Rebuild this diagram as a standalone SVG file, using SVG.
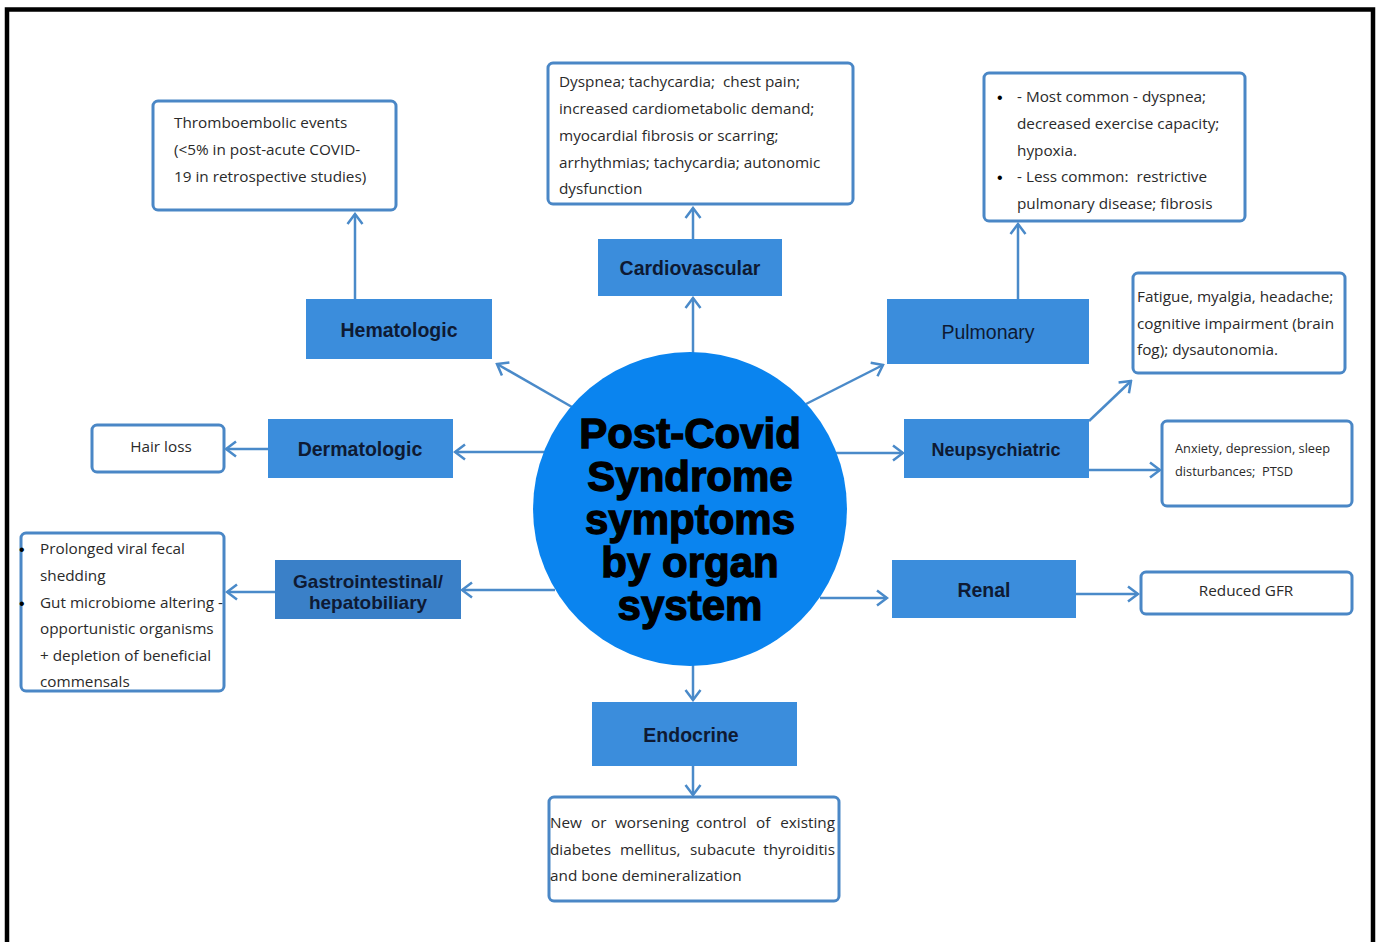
<svg xmlns="http://www.w3.org/2000/svg" width="1379" height="942" viewBox="0 0 1379 942">
<style>
.node{fill:#3b8ddc}
.lbl{font-family:"Liberation Sans",Arial,sans-serif;font-weight:bold;font-size:19.5px;fill:#0e1a33;text-anchor:middle}
.box{fill:#fff;stroke:#4a87c6;stroke-width:3}
.txt{font-family:"Open Sans","Liberation Sans",sans-serif;font-size:15.3px;fill:#2a2a2a;white-space:pre}
.sm{font-size:12.8px}
.bul{font-family:"Liberation Sans",Arial,sans-serif;font-size:16px;fill:#000}
.con line{stroke:#4a8ac9;stroke-width:2.5;fill:none}
.title{font-family:"Liberation Sans",Arial,sans-serif;font-weight:bold;font-size:42px;fill:#000;stroke:#000;stroke-width:1.3;text-anchor:middle}
</style>
<defs>
<marker id="ah" viewBox="-13 -9 15 18" markerWidth="15" markerHeight="18" refX="0" refY="0" orient="auto" markerUnits="userSpaceOnUse">
<path d="M-10,-7.5 L0,0 L-10,7.5" fill="none" stroke="#4a8ac9" stroke-width="2.5"/>
</marker>
</defs>
<rect width="1379" height="942" fill="#fff"/>
<path d="M7,942 V9.5 H1373 V942" fill="none" stroke="#000" stroke-width="4.5"/>

<g class="con">
<line x1="572" y1="407" x2="497" y2="364" marker-end="url(#ah)"/>
<line x1="693" y1="354" x2="693" y2="298" marker-end="url(#ah)"/>
<line x1="806" y1="404" x2="883" y2="365" marker-end="url(#ah)"/>
<line x1="835" y1="453" x2="903" y2="453" marker-end="url(#ah)"/>
<line x1="820" y1="598" x2="887" y2="598" marker-end="url(#ah)"/>
<line x1="693" y1="665" x2="693" y2="700" marker-end="url(#ah)"/>
<line x1="555" y1="590" x2="462" y2="590" marker-end="url(#ah)"/>
<line x1="545" y1="452" x2="455" y2="452" marker-end="url(#ah)"/>
<line x1="355" y1="299" x2="355" y2="214" marker-end="url(#ah)"/>
<line x1="693" y1="239" x2="693" y2="208" marker-end="url(#ah)"/>
<line x1="1018" y1="299" x2="1018" y2="224" marker-end="url(#ah)"/>
<line x1="1089" y1="421" x2="1131" y2="381" marker-end="url(#ah)"/>
<line x1="1089" y1="470" x2="1160" y2="470" marker-end="url(#ah)"/>
<line x1="1076" y1="594" x2="1138" y2="594" marker-end="url(#ah)"/>
<line x1="693" y1="766" x2="693" y2="795" marker-end="url(#ah)"/>
<line x1="268" y1="449" x2="226" y2="449" marker-end="url(#ah)"/>
<line x1="275" y1="592" x2="227" y2="592" marker-end="url(#ah)"/>
</g>

<g id="center">
<circle cx="690" cy="509" r="157" fill="#0a84ef"/>
<text class="title" x="690" y="448">Post-Covid</text>
<text class="title" x="690" y="491">Syndrome</text>
<text class="title" x="690" y="534">symptoms</text>
<text class="title" x="690" y="577">by organ</text>
<text class="title" x="690" y="620">system</text>
</g>

<g id="hematologic">
<rect class="node" x="306" y="299" width="186" height="60"/>
<text class="lbl" x="399" y="337">Hematologic</text>
</g>
<g id="hematologic-detail">
<rect class="box" x="153" y="101" width="243" height="109" rx="5"/>
<text class="txt" x="174" y="128">Thromboembolic events</text>
<text class="txt" x="174" y="155">(&lt;5% in post-acute COVID-</text>
<text class="txt" x="174" y="182">19 in retrospective studies)</text>
</g>

<g id="cardiovascular">
<rect class="node" x="598" y="239" width="184" height="57"/>
<text class="lbl" x="690" y="275">Cardiovascular</text>
</g>
<g id="cardiovascular-detail">
<rect class="box" x="548" y="63" width="305" height="141" rx="5"/>
<text class="txt" x="559" y="87">Dyspnea; tachycardia;  chest pain;</text>
<text class="txt" x="559" y="114">increased cardiometabolic demand;</text>
<text class="txt" x="559" y="141">myocardial fibrosis or scarring;</text>
<text class="txt" x="559" y="168">arrhythmias; tachycardia; autonomic</text>
<text class="txt" x="559" y="194">dysfunction</text>
</g>

<g id="pulmonary">
<rect class="node" x="887" y="299" width="202" height="65"/>
<text x="988" y="339" style="font-family:'Liberation Sans',Arial,sans-serif;font-size:19.5px;fill:#0e1a33;text-anchor:middle">Pulmonary</text>
</g>
<g id="pulmonary-detail">
<rect class="box" x="984" y="73" width="261" height="148" rx="5"/>
<text class="bul" x="997" y="103">•</text>
<text class="txt" x="1017" y="102">- Most common - dyspnea;</text>
<text class="txt" x="1017" y="129">decreased exercise capacity;</text>
<text class="txt" x="1017" y="156">hypoxia.</text>
<text class="bul" x="997" y="183">•</text>
<text class="txt" x="1017" y="182">- Less common:  restrictive</text>
<text class="txt" x="1017" y="209">pulmonary disease; fibrosis</text>
</g>

<g id="neuropsychiatric">
<rect class="node" x="904" y="419" width="185" height="59"/>
<text class="lbl" x="996" y="456" style="font-size:18px">Neupsychiatric</text>
</g>
<g id="neuro-detail-1">
<rect class="box" x="1133" y="273" width="212" height="100" rx="5"/>
<text class="txt" x="1137" y="302">Fatigue, myalgia, headache;</text>
<text class="txt" x="1137" y="329">cognitive impairment (brain</text>
<text class="txt" x="1137" y="355">fog); dysautonomia.</text>
</g>
<g id="neuro-detail-2">
<rect class="box" x="1162" y="421" width="190" height="85" rx="5"/>
<text class="txt sm" x="1175" y="453">Anxiety, depression, sleep</text>
<text class="txt sm" x="1175" y="476">disturbances;  PTSD</text>
</g>

<g id="renal">
<rect class="node" x="892" y="560" width="184" height="58"/>
<text class="lbl" x="984" y="597">Renal</text>
</g>
<g id="renal-detail">
<rect class="box" x="1141" y="572" width="211" height="42" rx="5"/>
<text class="txt" x="1246" y="596" text-anchor="middle">Reduced GFR</text>
</g>

<g id="endocrine">
<rect class="node" x="592" y="702" width="205" height="64"/>
<text class="lbl" x="691" y="742">Endocrine</text>
</g>
<g id="endocrine-detail">
<rect class="box" x="549" y="797" width="290" height="104" rx="5"/>
<text class="txt" y="828"><tspan x="550">New</tspan><tspan x="591">or</tspan><tspan x="615">worsening</tspan><tspan x="696">control</tspan><tspan x="756">of</tspan></text>
<text class="txt" x="835" y="828" text-anchor="end">existing</text>
<text class="txt" y="855"><tspan x="550">diabetes</tspan><tspan x="620">mellitus,</tspan><tspan x="690">subacute</tspan></text>
<text class="txt" x="835" y="855" text-anchor="end">thyroiditis</text>
<text class="txt" x="550" y="881">and bone demineralization</text>
</g>

<g id="dermatologic">
<rect class="node" x="268" y="419" width="185" height="59"/>
<text class="lbl" x="360" y="456">Dermatologic</text>
</g>
<g id="dermatologic-detail">
<rect class="box" x="92" y="425" width="132" height="47" rx="5"/>
<text class="txt" x="161" y="452" text-anchor="middle">Hair loss</text>
</g>

<g id="gastrointestinal">
<rect x="275" y="560" width="186" height="59" fill="#3a80c8"/>
<text class="lbl" x="368" y="588" style="font-size:19px">Gastrointestinal/</text>
<text class="lbl" x="368" y="609" style="font-size:19px">hepatobiliary</text>
</g>
<g id="gastrointestinal-detail">
<rect class="box" x="21" y="533" width="203" height="158" rx="5"/>
<text class="bul" x="19" y="555">•</text>
<text class="txt" x="40" y="554">Prolonged viral fecal</text>
<text class="txt" x="40" y="581">shedding</text>
<text class="bul" x="19" y="609">•</text>
<text class="txt" x="40" y="608">Gut microbiome altering -</text>
<text class="txt" x="40" y="634">opportunistic organisms</text>
<text class="txt" x="40" y="661">+ depletion of beneficial</text>
<text class="txt" x="40" y="687">commensals</text>
</g>
</svg>
